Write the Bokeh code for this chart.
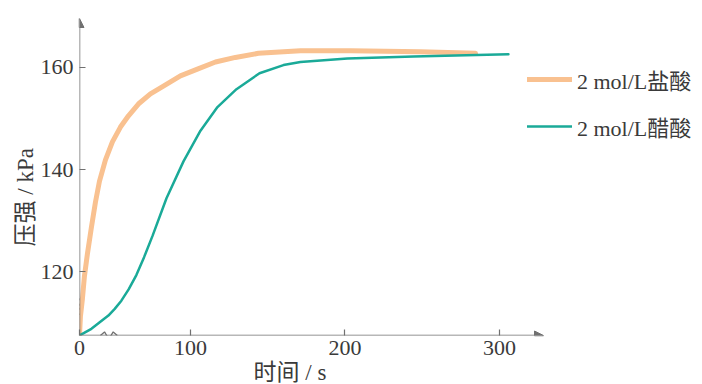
from bokeh.plotting import figure
from bokeh.models import Range1d, FixedTicker, Arrow, NormalHead, Legend, LegendItem, Title
from bokeh.embed import file_html
from bokeh.resources import INLINE

# ---- data (axes are broken near the origin; the origin is labelled 0) ----
x_origin = 28.2
y_origin = 107.6
x_arrow_end = 328.5
y_end = 169.5
x_view_end = 431.4

hcl_time = [28.2, 28.8, 30.1, 31.4, 33.3, 35.9, 38.5, 41.1, 45.0, 49.5, 54.7, 59.9,
            66.3, 74.1, 82.5, 93.5, 104.5, 116.2, 129.1, 144.0, 171.2, 203.6, 248.9, 284.5]
hcl_kpa = [107.6, 111.3, 114.8, 119.2, 123.5, 128.7, 133.6, 137.7, 141.9, 145.4, 148.3,
           150.5, 152.8, 154.8, 156.3, 158.3, 159.6, 161.0, 161.9, 162.7, 163.2, 163.2,
           163.0, 162.7]

acetic_time = [28.2, 35.9, 41.7, 46.9, 51.0, 55.3, 60.0, 65.0, 70.0, 75.4, 84.5, 95.5,
               106.5, 117.5, 129.8, 144.7, 160.2, 171.2, 201.6, 244.3, 305.8]
acetic_kpa = [107.6, 108.9, 110.3, 111.5, 112.8, 114.4, 116.6, 119.4, 122.9, 127.0,
              134.4, 141.6, 147.6, 152.2, 155.7, 158.8, 160.4, 161.0, 161.7, 162.1, 162.5]

x_ticks = [x_origin, 100, 200, 300]
x_tick_labels = ["0", "100", "200", "300"]
y_ticks = [120, 140, 160]
series_names = ["2 mol/L盐酸", "2 mol/L醋酸"]
x_title = "时间 / s"
y_title = "压强 / kPa"

# ---- styles ----
FONT = "'Liberation Serif', 'Noto Sans CJK SC', serif"
AXIS_COLOR = "#707070"
TEXT_COLOR = "#3a3a3a"
HCL_COLOR = "#f9c190"
ACETIC_COLOR = "#1aaa98"

p = figure(width=702, height=384, output_backend="svg", toolbar_location=None,
           x_range=Range1d(x_origin, x_view_end), y_range=Range1d(y_origin, y_end),
           min_border_left=79, min_border_right=0, min_border_top=18,
           min_border_bottom=47)
p.outline_line_color = None
p.grid.visible = False
p.background_fill_color = "white"
p.border_fill_color = "white"

for ax in (p.xaxis[0], p.yaxis[0]):
    ax.axis_line_color = None
    ax.major_tick_line_color = AXIS_COLOR
    ax.major_tick_line_width = 1.2
    ax.major_tick_in = 6
    ax.major_tick_out = 0
    ax.minor_tick_line_color = None
    ax.major_label_text_font = FONT
    ax.major_label_text_font_size = "22px"
    ax.major_label_text_color = TEXT_COLOR

p.xaxis.ticker = FixedTicker(ticks=x_ticks)
p.xaxis.major_label_overrides = {x_ticks[i]: x_tick_labels[i] for i in range(len(x_ticks))}
p.xaxis.major_label_standoff = 5
p.yaxis.ticker = FixedTicker(ticks=y_ticks)
p.yaxis.major_label_standoff = 6

# axes drawn as arrows
head = dict(size=9, fill_color=AXIS_COLOR, line_color=AXIS_COLOR)
p.add_layout(Arrow(end=NormalHead(**head), x_start=x_origin, y_start=y_origin,
                   x_end=x_arrow_end, y_end=y_origin, line_color=AXIS_COLOR, line_width=1.5))
p.add_layout(Arrow(end=NormalHead(**head), x_start=x_origin, y_start=y_origin,
                   x_end=x_origin, y_end=y_end, line_color=AXIS_COLOR, line_width=1.5))

# axis-break squiggles
bx = [41.7, 44.4, 47.2, 50.0, 52.7]
by = [y_origin, y_origin + 0.7, y_origin - 0.7, y_origin + 0.7, y_origin]
p.line(bx, by, line_color=AXIS_COLOR, line_width=1.3)
sy = [114.8, 114.0, 113.2, 112.4, 111.6]
sx = [x_origin, x_origin + 1.3, x_origin - 1.3, x_origin + 1.3, x_origin]
p.line(sx, sy, line_color=AXIS_COLOR, line_width=1.3)

r1 = p.line(hcl_time, hcl_kpa, line_color=HCL_COLOR, line_width=5, line_join="round",
            line_cap="round")
r2 = p.line(acetic_time, acetic_kpa, line_color=ACETIC_COLOR, line_width=2.5,
            line_join="round", line_cap="round")

legend = Legend(items=[LegendItem(label=series_names[0], renderers=[r1]),
                       LegendItem(label=series_names[1], renderers=[r2])],
                location=(448, 193), orientation="vertical",
                border_line_color=None, background_fill_alpha=0,
                padding=0, margin=0, spacing=15, glyph_width=45, glyph_height=20,
                label_height=20, label_standoff=5,
                label_text_font=FONT, label_text_font_size="22px",
                label_text_color=TEXT_COLOR)
p.add_layout(legend)

p.add_layout(Title(text=x_title, align="left", offset=174, standoff=0,
                   text_font=FONT, text_font_size="23px", text_color=TEXT_COLOR,
                   text_font_style="normal"), "below")
p.add_layout(Title(text=y_title, align="left", offset=89, standoff=0,
                   text_font=FONT, text_font_size="23px", text_color=TEXT_COLOR,
                   text_font_style="normal"), "left")

open("out.html", "w").write(file_html(p, INLINE))
